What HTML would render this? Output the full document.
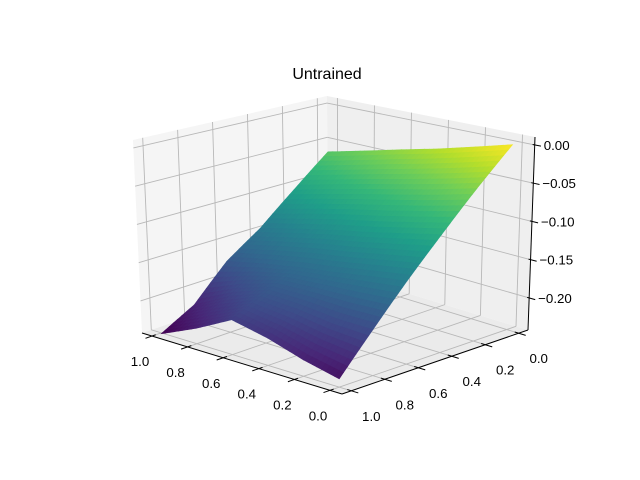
<!DOCTYPE html>
<html><head><meta charset="utf-8"><style>
body{margin:0;background:#fff}
svg{display:block;font-family:"Liberation Sans","DejaVu Sans",sans-serif}
</style></head><body>
<svg id="chart" width="640" height="480" viewBox="0 0 640 480" xmlns="http://www.w3.org/2000/svg">
<rect width="640" height="480" fill="#fff"/>
<text x="327" y="79" font-size="16" text-anchor="middle" fill="#000">Untrained</text>
<g id="panes"></g>
<g id="grid"></g>
<g id="axes"></g>
<g id="surf"></g>
</svg>
<script>
const xVals = [0, 0.2, 0.4, 0.6, 0.8, 1.0];
const yVals = [0, 0.2, 0.4, 0.6, 0.8, 1.0];
// zRows[j][i] : y = yVals[j], x = xVals[i]
const zRows = [
  [0.000,-0.013,-0.026,-0.038,-0.051,-0.064],
  [-0.046,-0.058,-0.069,-0.080,-0.092,-0.105],
  [-0.093,-0.103,-0.113,-0.122,-0.133,-0.145],
  [-0.139,-0.145,-0.152,-0.158,-0.166,-0.176],
  [-0.186,-0.185,-0.180,-0.178,-0.195,-0.220],
  [-0.232,-0.222,-0.208,-0.198,-0.222,-0.243]
];
const xTicks = [0, 0.2, 0.4, 0.6, 0.8, 1.0];
const xTickLabels = ["0.0","0.2","0.4","0.6","0.8","1.0"];
const yTicks = [0, 0.2, 0.4, 0.6, 0.8, 1.0];
const yTickLabels = ["0.0","0.2","0.4","0.6","0.8","1.0"];
const zTicks = [0, -0.05, -0.10, -0.15, -0.20];
const zTickLabels = ["0.00","\u22120.05","\u22120.10","\u22120.15","\u22120.20"];

const NS="http://www.w3.org/2000/svg";
const F=[342,394],L=[142,333],R=[528,330],B=[328,269];
const Ft=[341,181],Lt=[133,140],Rt=[535,137],Bt=[327,96];
function bil(p00,p10,p01,p11,a,b){return [
 p00[0]*(1-a)*(1-b)+p10[0]*a*(1-b)+p01[0]*(1-a)*b+p11[0]*a*b,
 p00[1]*(1-a)*(1-b)+p10[1]*a*(1-b)+p01[1]*(1-a)*b+p11[1]*a*b];}
function P(a,b,c){const lo=bil(F,L,R,B,a,b),hi=bil(Ft,Lt,Rt,Bt,a,b);
 return [lo[0]+c*(hi[0]-lo[0]),lo[1]+c*(hi[1]-lo[1])];}
function ax(x){return 0.06+0.89*x;}
function by(y){return 0.05+0.9*(1-y);}
function cz(z){return (z+0.2419)*3.965;}
function mk(tag,attrs,parent){const e=document.createElementNS(NS,tag);for(const k in attrs)e.setAttribute(k,attrs[k]);parent.appendChild(e);return e;}
function pts(arr){return arr.map(p=>p[0].toFixed(2)+","+p[1].toFixed(2)).join(" ");}

const panes=document.getElementById('panes');
let e;
e=mk('polygon',{points:pts([P(0,0,0),P(1,0,0),P(1,1,0),P(0,1,0)]),fill:'#ebebeb'},panes);


e=mk('polygon',{points:pts([P(1,0,0),P(1,1,0),P(1,1,1),P(1,0,1)]),fill:'#f5f5f5'},panes);


e=mk('polygon',{points:pts([P(0,1,0),P(1,1,0),P(1,1,1),P(0,1,1)]),fill:'#efefef'},panes);



const grid=document.getElementById('grid');
function gl(p,q){const l=mk('line',{x1:p[0],y1:p[1],x2:q[0],y2:q[1],stroke:'#b8b8b8','stroke-width':0.9},grid);
 
 }
xTicks.forEach(x=>{const a=ax(x);gl(P(a,0,0),P(a,1,0));gl(P(a,1,0),P(a,1,1));});
yTicks.forEach(y=>{const b=by(y);gl(P(0,b,0),P(1,b,0));gl(P(1,b,0),P(1,b,1));});
zTicks.forEach(z=>{const c=cz(z);gl(P(1,0,c),P(1,1,c));gl(P(0,1,c),P(1,1,c));});

const axes=document.getElementById('axes');
function al(p,q,name){const l=mk('line',{x1:p[0],y1:p[1],x2:q[0],y2:q[1],stroke:'#000','stroke-width':1},axes);
 
 }
al(P(0,0,0),P(1,0,0),'x-axis-line');
al(P(0,0,0),P(0,1,0),'y-axis-line');
al(P(0,1,0),P(0,1,1),'z-axis-line');
function tl(x,y,s,anchor,name){const t=mk('text',{x:x,y:y,'font-size':13.3,'text-anchor':anchor,fill:'#000'},axes);t.textContent=s;
 
 }
xTicks.forEach((x,i)=>{const a=ax(x);al(P(a,-0.035,0),P(a,0.02,0),'x-tick');const p=P(a,0,0);tl(p[0]-12,p[1]+30,xTickLabels[i],'middle','x-tick-label');});
yTicks.forEach((y,i)=>{const b=by(y);al(P(-0.035,b,0),P(0.02,b,0),'y-tick');const p=P(0,b,0);tl(p[0]+20,p[1]+30,yTickLabels[i],'middle','y-tick-label');});
zTicks.forEach((z,i)=>{const c=cz(z);al(P(-0.03,1,c),P(0.01,1,c),'z-tick');const p=P(0,1,c);tl(p[0]+9,p[1]+5,zTickLabels[i],'start','z-tick-label');});

// viridis
const vir=[[68,1,84],[72,40,120],[62,74,137],[49,104,142],[38,130,142],[31,158,137],[53,183,121],[109,205,89],[180,222,44],[253,231,37]];
function cmap(t){t=Math.max(0,Math.min(1,t));const s=t*(vir.length-1),i=Math.min(vir.length-2,Math.floor(s)),f=s-i;
 const c=vir[i].map((v,k)=>Math.round(v+(vir[i+1][k]-v)*f));return 'rgb('+c.join(',')+')';}
let zmin=Infinity,zmax=-Infinity;zRows.forEach(r=>r.forEach(v=>{zmin=Math.min(zmin,v);zmax=Math.max(zmax,v);}));
const surf=document.getElementById('surf');
const polys=[];const N=8;
for(let j=0;j<yVals.length-1;j++)for(let i=0;i<xVals.length-1;i++){
 const z00=zRows[j][i],z10=zRows[j][i+1],z01=zRows[j+1][i],z11=zRows[j+1][i+1];
 for(let s=0;s<N;s++)for(let t=0;t<N;t++){
  const corner=(u,v)=>{const x=xVals[i]+(xVals[i+1]-xVals[i])*u,y=yVals[j]+(yVals[j+1]-yVals[j])*v;
   const z=z00*(1-u)*(1-v)+z10*u*(1-v)+z01*(1-u)*v+z11*u*v;return {p:P(ax(x),by(y),cz(z)),a:ax(x),b:by(y),z:z};};
  const cs=[corner(s/N,t/N),corner((s+1)/N,t/N),corner((s+1)/N,(t+1)/N),corner(s/N,(t+1)/N)];
  const za=cs.reduce((q,c)=>q+c.z,0)/4,d=cs.reduce((q,c)=>q+c.a+c.b,0)/4;
  polys.push({pts:cs.map(c=>c.p),z:za,d:d});
 }}
polys.sort((p,q)=>q.d-p.d);
polys.forEach(p=>{const col=cmap((p.z-zmin)/(zmax-zmin));
 const g=mk('polygon',{points:pts(p.pts),fill:col,stroke:col,'stroke-width':0.6},surf);
 
 });
</script>
</body></html>
